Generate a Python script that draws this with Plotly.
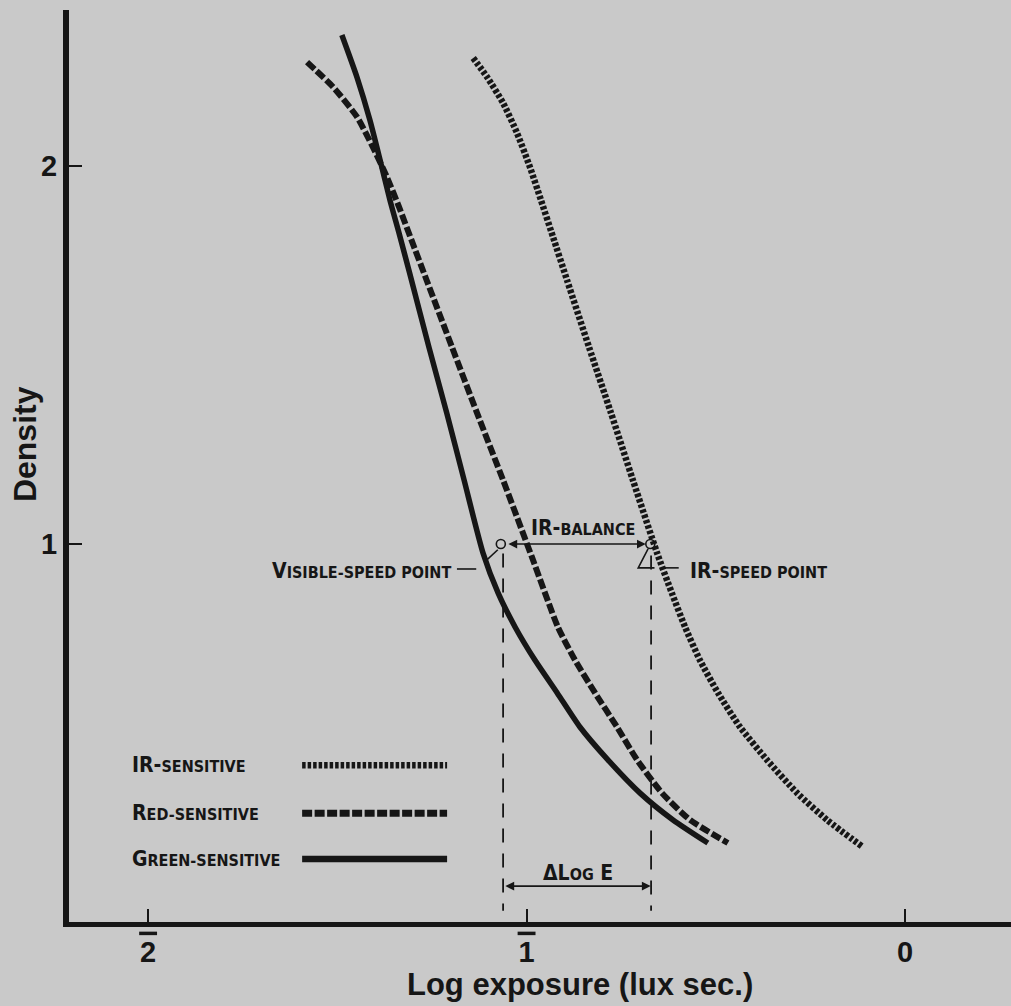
import plotly.graph_objects as go

# ---------------- data ----------------
green_x = [-1.488, -1.448, -1.414, -1.387, -1.361, -1.337, -1.309, -1.258, -1.211,
           -1.165, -1.115, -1.075, -1.030, -0.978, -0.919, -0.859, -0.785, -0.700,
           -0.613, -0.521]
green_y = [2.347, 2.235, 2.122, 2.016, 1.910, 1.823, 1.717, 1.521, 1.347,
           1.169, 0.976, 0.870, 0.780, 0.693, 0.606, 0.516, 0.429, 0.341,
           0.270, 0.209]

red_x = [-1.580, -1.511, -1.448, -1.406, -1.369, -1.337, -1.304, -1.264, -1.197,
         -1.131, -1.062, -0.986, -0.917, -0.872, -0.819, -0.761, -0.708, -0.642,
         -0.568, -0.468]
red_y = [2.275, 2.209, 2.130, 2.050, 1.971, 1.892, 1.804, 1.698, 1.521,
         1.347, 1.169, 0.966, 0.780, 0.693, 0.606, 0.516, 0.429, 0.341,
         0.270, 0.209]

ir_x = [-1.141, -1.104, -1.062, -1.025, -0.991, -0.962, -0.930, -0.893, -0.835,
        -0.777, -0.719, -0.655, -0.616, -0.581, -0.542, -0.494, -0.436, -0.365,
        -0.285, -0.206, -0.111]
ir_y = [2.286, 2.235, 2.167, 2.087, 1.997, 1.910, 1.812, 1.698, 1.521,
        1.347, 1.169, 0.976, 0.870, 0.780, 0.693, 0.606, 0.516, 0.429,
        0.341, 0.270, 0.198]

speed_density = 1.0
visible_speed_logE = -1.068
ir_speed_logE = -0.673

x_tick_vals = [-2, -1, 0]
x_tick_text = ["2", "1", "0"]
x_tick_negative = [True, True, False]   # characteristic shown with a bar (2̄, 1̄)
y_tick_vals = [1, 2]
y_tick_text = ["1", "2"]

# ---------------- styling ----------------
BG = "rgb(201,201,201)"
INK = "rgb(22,22,22)"
LAB_FONT = "DejaVu Sans Condensed, Liberation Sans Narrow, sans-serif"
AX_FONT = "Liberation Sans, Arial, Helvetica, sans-serif"
X0, X1 = -2.209, 0.280
Y0, Y1 = 0.0, 2.413

fig = go.Figure()

fig.add_trace(go.Scatter(x=ir_x, y=ir_y, mode="lines", name="IR-sensitive",
                         line=dict(color=INK, width=6.5, dash="3.5px,2px", shape="spline", smoothing=0.6),
                         showlegend=False, hoverinfo="skip"))
fig.add_trace(go.Scatter(x=red_x, y=red_y, mode="lines", name="Red-sensitive",
                         line=dict(color=INK, width=6, dash="10px,3px", shape="spline", smoothing=0.6),
                         showlegend=False, hoverinfo="skip"))
fig.add_trace(go.Scatter(x=green_x, y=green_y, mode="lines", name="Green-sensitive",
                         line=dict(color=INK, width=5.5, shape="spline", smoothing=0.6),
                         showlegend=False, hoverinfo="skip"))

# speed points
fig.add_trace(go.Scatter(x=[visible_speed_logE, ir_speed_logE], y=[speed_density, speed_density],
                         mode="markers",
                         marker=dict(symbol="circle-open", size=9, color=INK, line=dict(width=1.6)),
                         showlegend=False, hoverinfo="skip"))

shapes = []
# vertical dashed guide lines
for xv, y_top in [(visible_speed_logE + 0.006, 0.975), (ir_speed_logE + 0.002, 0.97)]:
    shapes.append(dict(type="line", xref="x", yref="y", x0=xv, x1=xv, y0=y_top, y1=0.03,
                       line=dict(color=INK, width=1.8, dash="14px,11px")))

# leader lines
leaders = [
    [(-1.184, 0.934), (-1.133, 0.934)],
    [(-1.076, 0.985), (-1.107, 0.956)],
    [(-0.679, 0.987), (-0.705, 0.937), (-0.662, 0.937)],
    [(-0.637, 0.937), (-0.598, 0.937)],
]
for pts in leaders:
    path = "M " + " L ".join(f"{px},{py}" for px, py in pts)
    shapes.append(dict(type="path", xref="x", yref="y", path=path,
                       line=dict(color=INK, width=1.6)))

# legend samples
legend_rows = [
    (0.415, dict(color=INK, width=6.5, dash="3.5px,2px")),
    (0.288, dict(color=INK, width=7, dash="10px,2.5px")),
    (0.167, dict(color=INK, width=6.5)),
]
for ly, ln in legend_rows:
    shapes.append(dict(type="line", xref="x", yref="y", x0=-1.593, x1=-1.210, y0=ly, y1=ly, line=ln))

# bars over the negative characteristics (2̄, 1̄)
for tv, neg in zip(x_tick_vals, x_tick_negative):
    if neg:
        xc = (tv - X0) / (X1 - X0)
        shapes.append(dict(type="line", xref="paper", yref="paper",
                           x0=xc - 0.0095, x1=xc + 0.0095, y0=-0.0125, y1=-0.0125,
                           line=dict(color=INK, width=3.5)))

fig.update_layout(shapes=shapes)

def sc(big, small, ss=16):
    return f"{big}<span style='font-size:{ss}px'>{small}</span>"

ann = []
txtfont = dict(family=LAB_FONT, size=21, color=INK, weight="bold")
ann.append(dict(x=-2.048, y=0.415, text=sc("IR-", "SENSITIVE"), xanchor="left"))
ann.append(dict(x=-2.048, y=0.288, text=sc("R", "ED-SENSITIVE"), xanchor="left"))
ann.append(dict(x=-2.048, y=0.167, text=sc("G", "REEN-SENSITIVE"), xanchor="left"))
ann.append(dict(x=-1.194, y=0.930, text=sc("V", "ISIBLE-SPEED POINT"), xanchor="right"))
ann.append(dict(x=-0.573, y=0.930, text=sc("IR-", "SPEED POINT"), xanchor="left"))
ann.append(dict(x=-0.851, y=1.043, text=sc("IR-", "BALANCE"), xanchor="center"))
ann.append(dict(x=-0.864, y=0.130, text="\u0394" + sc("L", "OG") + " E", xanchor="center"))
for a in ann:
    a.update(xref="x", yref="y", showarrow=False, yanchor="middle", font=txtfont)

# arrows
ann.append(dict(x=-0.685, y=speed_density, ax=-1.052, ay=speed_density,
                xref="x", yref="y", axref="x", ayref="y", text="", showarrow=True,
                arrowhead=2, arrowside="end+start", arrowsize=1.1, arrowwidth=1.6, arrowcolor=INK))
ann.append(dict(x=-0.672, y=0.095, ax=-1.060, ay=0.095,
                xref="x", yref="y", axref="x", ayref="y", text="", showarrow=True,
                arrowhead=2, arrowside="end+start", arrowsize=1.1, arrowwidth=1.6, arrowcolor=INK))

# axis titles
ann.append(dict(x=0.5425, y=-0.069, xref="paper", yref="paper", showarrow=False,
                text="Log exposure (lux sec.)",
                font=dict(family=AX_FONT, size=31, color=INK, weight="bold"),
                xanchor="center", yanchor="middle"))
ann.append(dict(x=-0.0467, y=0.524, xref="paper", yref="paper", showarrow=False,
                text="Density", textangle=-90,
                font=dict(family=AX_FONT, size=32, color=INK, weight="bold"),
                xanchor="center", yanchor="middle"))

fig.update_layout(annotations=ann)

fig.update_layout(
    width=1011, height=1006,
    margin=dict(l=69, r=0, t=10, b=84),
    paper_bgcolor=BG, plot_bgcolor=BG,
    showlegend=False,
    xaxis=dict(range=[X0, X1], showgrid=False, zeroline=False,
               showline=True, linecolor=INK, linewidth=5,
               tickmode="array", tickvals=x_tick_vals, ticktext=x_tick_text,
               ticks="inside", ticklen=13, tickwidth=2.2, tickcolor=INK,
               tickfont=dict(family=AX_FONT, size=29, color=INK, weight="bold")),
    yaxis=dict(range=[Y0, Y1], showgrid=False, zeroline=False,
               showline=True, linecolor=INK, linewidth=6,
               tickmode="array", tickvals=y_tick_vals, ticktext=y_tick_text,
               ticks="inside", ticklen=13, tickwidth=2.2, tickcolor=INK,
               tickfont=dict(family=AX_FONT, size=29, color=INK, weight="bold")),
)

fig.write_html("out.html", config={"displayModeBar": False},
               post_script="document.body.style.margin='0px';document.body.style.background='rgb(201,201,201)';")
